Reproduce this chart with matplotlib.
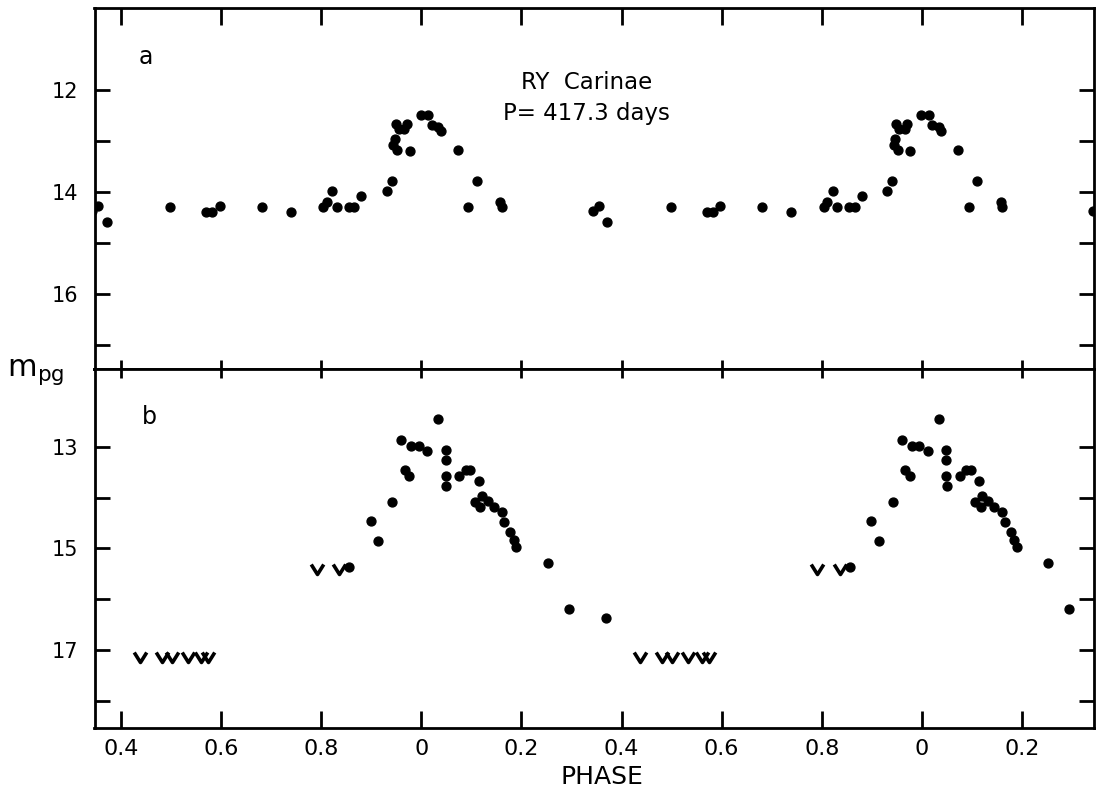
import matplotlib
matplotlib.use("Agg")
import matplotlib.pyplot as plt
from matplotlib.path import Path
import numpy as np

# ---------------- data (one cycle of phase, photographic magnitude) ----------------
# Panel a
phase_a = [0.343, 0.354, 0.371, 0.498, 0.570, 0.582, 0.597, 0.681, 0.739, 0.804,
           0.811, 0.822, 0.831, 0.855, 0.866, 0.880, 0.931, 0.941, 0.944, 0.947,
           0.952, 0.949, 0.955, 0.966, 0.971, 0.977, 0.999, 0.014, 0.021, 0.034,
           0.039, 0.073, 0.094, 0.111, 0.158, 0.161]
mag_a = [14.37, 14.28, 14.58, 14.29, 14.39, 14.39, 14.28, 14.29, 14.39, 14.29,
         14.19, 13.97, 14.29, 14.29, 14.29, 14.08, 13.97, 13.78, 13.07, 12.95,
         13.18, 12.67, 12.77, 12.77, 12.67, 13.20, 12.48, 12.48, 12.69, 12.72,
         12.80, 13.18, 14.29, 13.78, 14.19, 14.29]

# Panel b: detections
phase_b = [0.856, 0.899, 0.914, 0.942, 0.960, 0.967, 0.976, 0.980, 0.995, 0.012,
           0.034, 0.049, 0.049, 0.049, 0.050, 0.076, 0.089, 0.098, 0.115, 0.107,
           0.118, 0.121, 0.133, 0.145, 0.161, 0.166, 0.178, 0.185, 0.190, 0.253,
           0.295, 0.369]
mag_b = [15.37, 14.47, 14.86, 14.08, 12.88, 13.47, 13.57, 12.99, 12.99, 13.08,
         12.47, 13.07, 13.27, 13.57, 13.77, 13.57, 13.46, 13.46, 13.67, 14.08,
         14.18, 13.98, 14.07, 14.18, 14.28, 14.48, 14.67, 14.84, 14.97, 15.28,
         16.19, 16.37]

# Panel b: upper limits (fainter than)
limit_phase = [0.437, 0.481, 0.501, 0.533, 0.560, 0.574, 0.791, 0.836]
limit_mag = [17.12, 17.12, 17.12, 17.12, 17.12, 17.12, 15.40, 15.40]

# axis ticks / labels
x_ticks = [0.4, 0.6, 0.8, 1.0, 1.2, 1.4, 1.6, 1.8, 2.0, 2.2]
x_tick_labels = ["0.4", "0.6", "0.8", "0", "0.2", "0.4", "0.6", "0.8", "0", "0.2"]
ya_major = [12, 14, 16]
ya_minor = [13, 15, 17]
yb_major = [13, 15, 17]
yb_minor = [14, 16, 18]

cycles = [0, 1, 2]
XMIN, XMAX = 0.347, 2.344


def unwrap(ph, mg, start):
    x = np.concatenate([np.asarray(ph) + k for k in cycles])
    y = np.tile(np.asarray(mg), len(cycles))
    m = (x >= start) & (x <= XMAX + 0.02)
    return x[m], y[m]


plt.rcParams["font.family"] = ["DejaVu Sans"]

fig = plt.figure(figsize=(10.96, 7.95), dpi=100)
L, R = 94.5 / 1096, 1094 / 1096
W = R - L
ax_a = fig.add_axes([L, 0.53585, W, 0.45409])
ax_b = fig.add_axes([L, 0.08428, W, 0.45157])

LW = 2.0
for ax in (ax_a, ax_b):
    for s in ax.spines.values():
        s.set_linewidth(LW)
    ax.set_xlim(XMIN, XMAX)
    ax.set_xticks(x_ticks)
    ax.tick_params(axis="x", which="both", direction="in", length=12, width=LW,
                   top=True, bottom=True, labelsize=16, pad=8)
    ax.tick_params(axis="y", which="both", direction="in", length=11, width=LW,
                   left=True, right=True, labelsize=15, pad=12)

# panel a
xa, ya = unwrap(phase_a, mag_a, 0.34)
ax_a.plot(xa, ya, "o", color="black", ms=6.4, mec="black")
ax_a.set_ylim(17.47, 10.39)
ax_a.set_yticks(ya_major)
ax_a.set_yticks(ya_minor, minor=True)
ax_a.set_yticklabels([str(v) for v in ya_major])
ax_a.tick_params(axis="x", labelbottom=False)
for t in ax_a.xaxis.get_major_ticks():
    t.tick1line.set_markersize(6.5)

# panel b
xb, yb = unwrap(phase_b, mag_b, 0.40)
ax_b.plot(xb, yb, "o", color="black", ms=6.4, mec="black")
xl, yl = unwrap(limit_phase, limit_mag, 0.40)
vmark = Path([(-1.0, 0.8), (0.0, -0.8), (1.0, 0.8)])
ax_b.plot(xl, yl, linestyle="none", marker=vmark, ms=9, mfc="none",
          mec="black", mew=2.6)
ax_b.set_ylim(18.52, 11.48)
ax_b.set_yticks(yb_major)
ax_b.set_yticks(yb_minor, minor=True)
ax_b.set_yticklabels([str(v) for v in yb_major])
ax_b.set_xticklabels(x_tick_labels)
for t in ax_b.xaxis.get_major_ticks():
    t.tick2line.set_markersize(6.5)

# texts
ax_a.text(1.33, 11.86, "RY  Carinae", ha="center", va="center", fontsize=16.5)
ax_a.text(1.33, 12.45, "P= 417.3 days", ha="center", va="center", fontsize=16.5)
ax_a.text(0.449, 11.35, "a", ha="center", va="center", fontsize=17)
ax_b.text(0.457, 12.42, "b", ha="center", va="center", fontsize=17)

fig.text(602 / 1096, 1 - 777 / 795, "PHASE", ha="center", va="center", fontsize=18)
fig.text(36 / 1096, 1 - 372 / 795, r"$\mathsf{m_{pg}}$", ha="center", va="center",
         fontsize=22)

fig.savefig("out.png", dpi=100)
